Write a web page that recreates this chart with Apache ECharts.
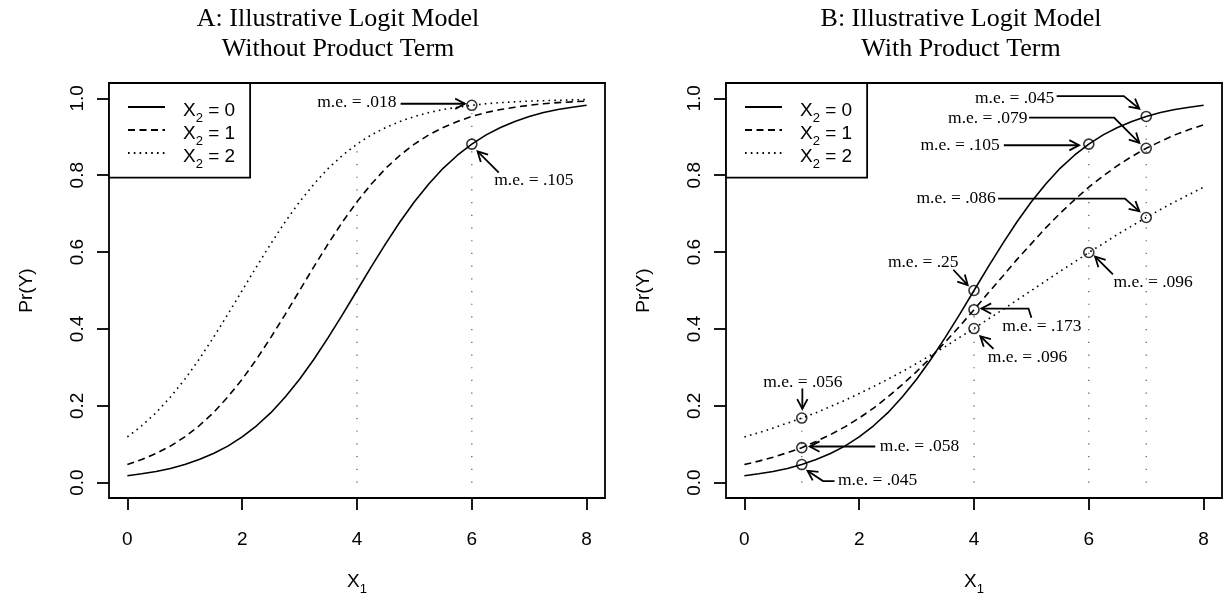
<!DOCTYPE html>
<html><head><meta charset="utf-8">
<script src="https://cdn.jsdelivr.net/npm/echarts@6/dist/echarts.min.js"></script>
<style>html,body{margin:0;padding:0;background:#fff}#c{width:1225px;height:596px}</style>
</head><body><div id="c"></div><script>
// ---------- data ----------
const x1 = [0,0.25,0.5,0.75,1,1.25,1.5,1.75,2,2.25,2.5,2.75,3,3.25,3.5,3.75,4,4.25,4.5,4.75,5,5.25,5.5,5.75,6,6.25,6.5,6.75,7,7.25,7.5,7.75,8];
const seriesNames = ['X2 = 0','X2 = 1','X2 = 2'];
// Panel A: without product term
const A0 = [0.018,0.023,0.029,0.037,0.047,0.060,0.076,0.095,0.119,0.148,0.182,0.223,0.269,0.321,0.378,0.438,0.500,0.562,0.622,0.679,0.731,0.777,0.818,0.852,0.881,0.905,0.924,0.940,0.953,0.963,0.971,0.977,0.982];
const A1 = [0.047,0.060,0.076,0.095,0.119,0.148,0.182,0.223,0.269,0.321,0.378,0.438,0.500,0.562,0.622,0.679,0.731,0.777,0.818,0.852,0.881,0.905,0.924,0.940,0.953,0.963,0.971,0.977,0.982,0.986,0.989,0.991,0.993];
const A2 = [0.119,0.148,0.182,0.223,0.269,0.321,0.378,0.438,0.500,0.562,0.622,0.679,0.731,0.777,0.818,0.852,0.881,0.905,0.924,0.940,0.953,0.963,0.971,0.977,0.982,0.986,0.989,0.991,0.993,0.994,0.995,0.996,0.997];
// Panel B: with product term
const B0 = [0.018,0.023,0.029,0.037,0.047,0.060,0.076,0.095,0.119,0.148,0.182,0.223,0.269,0.321,0.378,0.438,0.500,0.562,0.622,0.679,0.731,0.777,0.818,0.852,0.881,0.905,0.924,0.940,0.953,0.963,0.971,0.977,0.982];
const B1 = [0.047,0.056,0.066,0.078,0.091,0.107,0.125,0.145,0.168,0.194,0.223,0.255,0.289,0.326,0.366,0.407,0.450,0.494,0.537,0.581,0.622,0.663,0.701,0.736,0.769,0.798,0.825,0.849,0.870,0.888,0.905,0.919,0.931];
const B2 = [0.119,0.130,0.142,0.155,0.168,0.182,0.198,0.214,0.232,0.250,0.269,0.289,0.310,0.332,0.354,0.378,0.401,0.426,0.450,0.475,0.500,0.525,0.550,0.574,0.599,0.622,0.646,0.668,0.690,0.711,0.731,0.750,0.769];
// highlighted points
const ptsA_x = [6,6];
const ptsA_y = [0.982,0.881];
const ptsB_x = [1,1,1,4,4,4,6,6,7,7,7];
const ptsB_y = [0.047,0.091,0.168,0.500,0.450,0.401,0.881,0.599,0.953,0.870,0.690];
// vertical reference lines
const refA_x = [4,6];
const refA_top = [0.881,0.982];
const refB_x = [1,4,6,7];
const refB_top = [0.168,0.500,0.881,0.953];
// tick labels
const xTicks = [0,2,4,6,8];
const yTicks = [0,0.2,0.4,0.6,0.8,1.0];
// annotation texts
const annotA_text = ['m.e. = .018','m.e. = .105'];
const annotB_text = ['m.e. = .045','m.e. = .079','m.e. = .105','m.e. = .086','m.e. = .096','m.e. = .25','m.e. = .173','m.e. = .096','m.e. = .056','m.e. = .058','m.e. = .045'];
const titles = ['A: Illustrative Logit Model\nWithout Product Term','B: Illustrative Logit Model\nWith Product Term'];

// ---------- annotation placement (data space) ----------
const annotA_at = [[4.69,0.989],[6.39,0.786]];
const annotA_align = ['right','left'];
const annotA_path = [
  [[4.76,0.986],[5.88,0.986]],
  [[6.47,0.807],[6.10,0.862]]
];
const annotB_at = [[5.40,1.0],[4.93,0.948],[4.45,0.877],[4.38,0.739],[6.43,0.52],[3.73,0.572],[4.49,0.407],[4.24,0.325],[1.02,0.261],[2.36,0.094],[1.63,0.005]];
const annotB_align = ['right','right','right','right','left','right','left','left','center','left','left'];
const annotB_path = [
  [[5.44,1.006],[6.61,1.006],[6.88,0.973]],
  [[4.96,0.95],[6.44,0.95],[6.88,0.884]],
  [[4.52,0.878],[5.83,0.878]],
  [[4.42,0.739],[6.63,0.739],[6.88,0.706]],
  [[6.42,0.542],[6.11,0.588]],
  [[3.64,0.554],[3.89,0.514]],
  [[5.00,0.429],[4.95,0.453],[4.13,0.453]],
  [[4.34,0.348],[4.11,0.381]],
  [[1.01,0.245],[1.01,0.192]],
  [[2.28,0.094],[1.14,0.094]],
  [[1.57,0.004],[1.37,0.004],[1.10,0.031]]
];

// ---------- styles ----------
const SANS = 'Liberation Sans';
const SERIF = 'Liberation Serif';
const lineTypes = ['solid',[7,4.5],[1.6,4.2]];

const zip = (xs, ys) => xs.map((x,i)=>[x, ys[i]]);

function curveSeries(idx, ys){
  return ys.map((y,k)=>({
    type:'line', name: seriesNames[k], xAxisIndex: idx, yAxisIndex: idx,
    data: zip(x1, y), showSymbol:false, symbol:'none', smooth:false, silent:true,
    itemStyle:{color:'#000'},
    lineStyle:{color:'#000', width:1.6, type: lineTypes[k]}, z:3
  }));
}
function refSeries(idx, xs, tops){
  const d = [];
  xs.forEach((x,i)=>{ d.push([x,0]); d.push([x,tops[i]]); d.push([x,'-']); });
  return {type:'line', xAxisIndex: idx, yAxisIndex: idx, data:d, showSymbol:false, symbol:'none', silent:true,
    connectNulls:false, lineStyle:{color:'#555', width:1.2, type:[1.2,11.5]}, z:2};
}
function pointSeries(idx, xs, ys){
  return {type:'scatter', xAxisIndex: idx, yAxisIndex: idx, data: zip(xs, ys), symbol:'circle', symbolSize:10, silent:true,
    itemStyle:{color:'rgba(0,0,0,0)', borderColor:'#000', borderWidth:1.6}, z:4};
}
function annotSeries(idx, texts, at, align, paths){
  return {type:'custom', xAxisIndex: idx, yAxisIndex: idx, silent:true, z:5, clip:false,
    data: at.map((p,i)=>[p[0], p[1], i]),
    renderItem: (params, api) => {
      const i = api.value(2);
      const pts = paths[i].map(p => api.coord(p));
      const n = pts.length, tip = pts[n-1], prev = pts[n-2];
      const ang = Math.atan2(tip[1]-prev[1], tip[0]-prev[0]);
      const L = 11, A = 28*Math.PI/180;
      const h1 = [tip[0]-L*Math.cos(ang-A), tip[1]-L*Math.sin(ang-A)];
      const h2 = [tip[0]-L*Math.cos(ang+A), tip[1]-L*Math.sin(ang+A)];
      const tp = api.coord(at[i]);
      const ls = {stroke:'#000', lineWidth:1.8, fill:null};
      return {type:'group', children:[
        {type:'polyline', shape:{points:pts}, style:ls},
        {type:'polyline', shape:{points:[h1,tip,h2]}, style:ls},
        {type:'text', x:tp[0], y:tp[1], style:{text:texts[i], align:align[i], verticalAlign:'middle',
          fontFamily:SERIF, fontSize:17.5, fill:'#000'}}
      ]};
    }};
}

const grids = [
  {left:109, top:83, width:496, height:415},
  {left:726, top:83, width:496, height:415}
].map(g => Object.assign(g, {show:true, borderColor:'#000', borderWidth:1.8, backgroundColor:'transparent', containLabel:false, outerBoundsMode:'none'}));

function xAxisCfg(idx){
  return {gridIndex: idx, type:'value', min:-0.32, max:8.32,
    axisLine:{show:false, onZero:false}, splitLine:{show:false},
    axisTick:{show:true, length:12, customValues:xTicks, lineStyle:{color:'#000', width:1.8}},
    axisLabel:{customValues:xTicks, margin:32, fontSize:19, fontFamily:SANS, color:'#000', formatter: v => String(v)},
    name:'{x|X}{s|1}', nameLocation:'middle', nameGap:74,
    nameTextStyle:{rich:{
      x:{fontSize:19, fontFamily:SANS, color:'#000', lineHeight:20, verticalAlign:'top'},
      s:{fontSize:13, fontFamily:SANS, color:'#000', lineHeight:13, padding:[11,0,0,0], verticalAlign:'top'}
    }}};
}
function yAxisCfg(idx){
  return {gridIndex: idx, type:'value', min:-0.04, max:1.04,
    axisLine:{show:false, onZero:false}, splitLine:{show:false},
    axisTick:{show:true, length:12, customValues:yTicks, lineStyle:{color:'#000', width:1.8}},
    axisLabel:{customValues:yTicks, rotate:90, margin:22, fontSize:19, fontFamily:SANS, color:'#000', formatter: v => v.toFixed(1)},
    name:'Pr(Y)', nameLocation:'middle', nameGap:73, nameRotate:90,
    nameTextStyle:{fontSize:19, fontFamily:SANS, color:'#000'}};
}
function legendCfg(left){
  return {orient:'vertical', left:left, top:83, data:seriesNames, selectedMode:false,
    itemWidth:37, itemHeight:14, itemGap:-4.7, padding:[14,15,7,18],
    itemStyle:{opacity:0},
    borderColor:'#000', borderWidth:1.8, backgroundColor:'#fff', borderRadius:0,
    formatter: name => '{x|X}{s|2}{y| = ' + name.slice(-1) + '}',
    textStyle:{rich:{
      x:{fontSize:19, fontFamily:SANS, color:'#000', lineHeight:20, padding:[4,0,0,13], verticalAlign:'top'},
      s:{fontSize:13, fontFamily:SANS, color:'#000', lineHeight:13, padding:[14.7,0,0,0], verticalAlign:'top'},
      y:{fontSize:19, fontFamily:SANS, color:'#000', lineHeight:20, padding:[4,0,0,0], verticalAlign:'top'}
    }}};
}

const option = {
  animation:false,
  backgroundColor:'#fff',
  title:[
    {text:titles[0], left:338, top:4, textAlign:'center', padding:0, textStyle:{fontFamily:SERIF, fontSize:26, fontWeight:'normal', lineHeight:30, color:'#000'}},
    {text:titles[1], left:961, top:4, textAlign:'center', padding:0, textStyle:{fontFamily:SERIF, fontSize:26, fontWeight:'normal', lineHeight:30, color:'#000'}}
  ],
  legend:[legendCfg(109), legendCfg(726)],
  grid: grids,
  xAxis:[xAxisCfg(0), xAxisCfg(1)],
  yAxis:[yAxisCfg(0), yAxisCfg(1)],
  series:[
    refSeries(0, refA_x, refA_top),
    refSeries(1, refB_x, refB_top),
    ...curveSeries(0, [A0,A1,A2]),
    ...curveSeries(1, [B0,B1,B2]),
    pointSeries(0, ptsA_x, ptsA_y),
    pointSeries(1, ptsB_x, ptsB_y),
    annotSeries(0, annotA_text, annotA_at, annotA_align, annotA_path),
    annotSeries(1, annotB_text, annotB_at, annotB_align, annotB_path)
  ]
};
const chart = echarts.init(document.getElementById('c'), null, {renderer:'canvas'});
chart.setOption(option);
</script></body></html>
